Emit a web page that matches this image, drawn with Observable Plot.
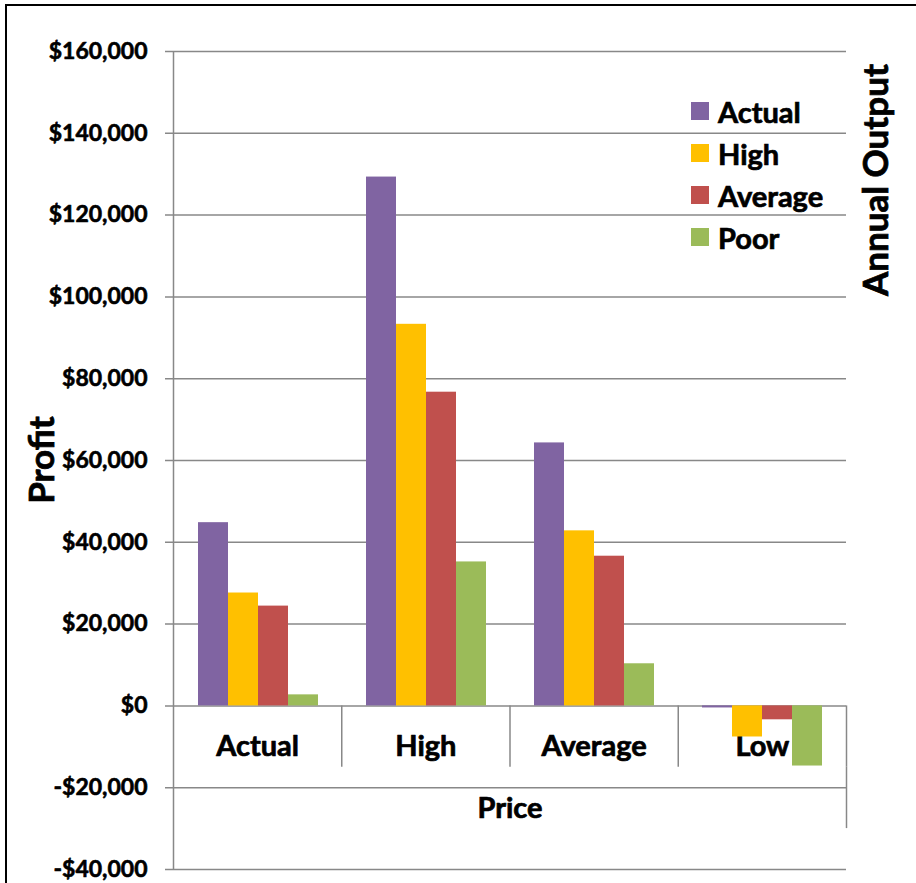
<!DOCTYPE html>
<html><head><meta charset="utf-8">
<script src="https://cdn.jsdelivr.net/npm/d3@7"></script>
<script src="https://cdn.jsdelivr.net/npm/@observablehq/plot@0.6"></script>
<style>
body{margin:0;background:#fff;}
#wrap{position:relative;width:916px;height:883px;overflow:hidden;font-family:Lato,"Open Sans",sans-serif;font-weight:bold;color:#000;}
#wrap svg{position:absolute;left:0;top:0;}
#border{position:absolute;left:5px;top:4px;width:940px;height:900px;border-left:2px solid #000;border-top:2px solid #000;}
.rot{position:absolute;transform:translate(-50%,-50%) rotate(-90deg);white-space:nowrap;font-size:35px;-webkit-text-stroke:0.8px #000;}
#legend{position:absolute;left:691px;top:90px;font-size:29px;-webkit-text-stroke:0.7px #000;}
.li{display:flex;align-items:center;height:42px;}
.sw{width:18px;height:18px;margin-right:9px;}
</style></head><body><div id="wrap"><div id="border"></div></div>
<script>
const prices = ["Actual", "High", "Average", "Low"];
const outputs = ["Actual", "High", "Average", "Poor"];
const actualOutput  = [44800, 129300, 64300, -500];
const highOutput    = [27600, 93300, 42800, -7600];
const averageOutput = [24400, 76700, 36600, -3400];
const poorOutput    = [2700, 35200, 10300, -14700];
const yTicks = [-40000, -20000, 0, 20000, 40000, 60000, 80000, 100000, 120000, 140000, 160000];
const colors = ["#8064A2", "#FFC000", "#C0504D", "#9BBB59"];
const xTitle = "Price";
const yTitle = "Profit";
const legendTitle = "Annual Output";

const seriesValues = [actualOutput, highOutput, averageOutput, poorOutput];
const table = [];
prices.forEach((p, i) => outputs.forEach((o, j) => table.push({price: p, output: o, value: seriesValues[j][i]})));

const fmt = d => (d < 0 ? "-" : "") + "$" + d3.format(",")(Math.abs(d));
const grid = "#888888";
const font = "Lato, 'Open Sans', sans-serif";
const dims = {width: 916, height: 883, marginLeft: 173, marginRight: 70, marginTop: 51, marginBottom: 14};
const yScale = {domain: [-40000, 160000], axis: null};
const heavy = {fontWeight: "bold", fill: "#000", stroke: "#000", strokeWidth: 0.7};

const back = Plot.plot({
  ...dims,
  style: {background: "transparent", fontFamily: font, overflow: "visible"},
  x: {type: "linear", domain: [0, prices.length], axis: null},
  y: yScale,
  marks: [
    Plot.ruleY(yTicks, {stroke: grid, strokeWidth: 1.5, insetLeft: -8}),
    Plot.text(yTicks, {frameAnchor: "left", y: d => d, text: fmt, textAnchor: "end", dx: -26, fontSize: 23, ...heavy, strokeWidth: 0.6}),
    Plot.ruleX([0], {y1: -40000, y2: 160000, stroke: grid, strokeWidth: 1.5}),
    Plot.ruleX(d3.range(1, prices.length + 1), {y1: 0, y2: -15000, stroke: grid, strokeWidth: 1.5}),
    Plot.ruleX([prices.length], {y1: -15000, y2: -30000, stroke: grid, strokeWidth: 1.5}),
    Plot.text(prices, {x: (d, i) => i + 0.5, y: 0, dy: 41, text: d => d, fontSize: 29, ...heavy}),
    Plot.text([xTitle], {x: prices.length / 2, y: -25000, dy: 1, text: d => d, fontSize: 29, ...heavy})
  ]
});

const front = Plot.plot({
  ...dims,
  style: {background: "transparent", overflow: "visible"},
  fx: {domain: prices, padding: 0, axis: null},
  x: {domain: outputs, paddingInner: 0, paddingOuter: 0.75, axis: null},
  y: yScale,
  color: {domain: outputs, range: colors},
  marks: [
    Plot.barY(table, {fx: "price", x: "output", y: "value", fill: "output"})
  ]
});

const wrap = document.getElementById("wrap");
wrap.appendChild(back);
wrap.appendChild(front);

const legend = document.createElement("div");
legend.id = "legend";
outputs.forEach((o, i) => {
  const row = document.createElement("div");
  row.className = "li";
  const sw = document.createElement("div");
  sw.className = "sw";
  sw.style.background = colors[i];
  const t = document.createElement("span");
  t.textContent = o;
  row.appendChild(sw); row.appendChild(t);
  legend.appendChild(row);
});
wrap.appendChild(legend);

function rotLabel(text, cx, cy) {
  const d = document.createElement("div");
  d.className = "rot";
  d.textContent = text;
  d.style.left = cx + "px";
  d.style.top = cy + "px";
  wrap.appendChild(d);
}
rotLabel(legendTitle, 874, 180);
rotLabel(yTitle, 40, 460);
</script>
</body></html>
